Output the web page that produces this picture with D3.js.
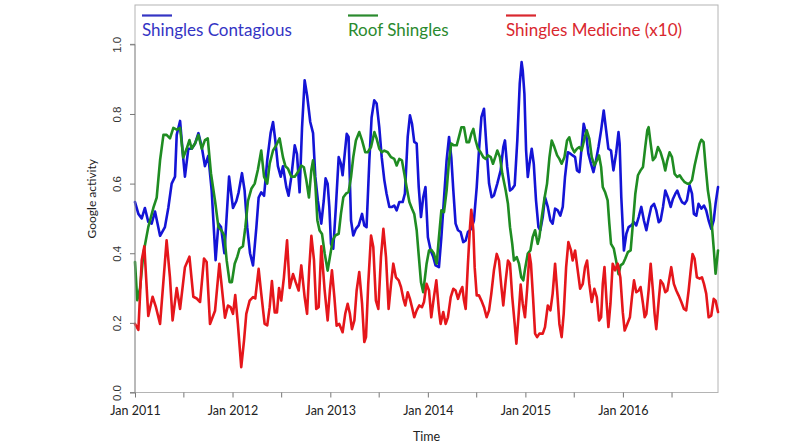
<!DOCTYPE html>
<html>
<head>
<meta charset="utf-8">
<script src="https://cdn.jsdelivr.net/npm/d3@7"></script>
<style>
  html, body { margin: 0; padding: 0; background: #fff; }
  svg { display: block; }
</style>
</head>
<body>
<svg id="chart" width="800" height="444"></svg>
<script>
// ---- data: [weeks since 1 Jan 2011, value] ----
const seriesNames = ["Shingles Contagious", "Roof Shingles", "Shingles Medicine (x10)"];
const yTicks = [0, 0.2, 0.4, 0.6, 0.8, 1.0];
const xTickYears = ["Jan 2011", "Jan 2012", "Jan 2013", "Jan 2014", "Jan 2015", "Jan 2016"];

const contagious = [
[0,0.547],[1.8,0.513],[3.6,0.50],[5.3,0.53],[7.1,0.49],[8.9,0.485],[10.7,0.52],[13.4,0.45],[16,0.475],[17.8,0.53],
[19.6,0.60],[21.4,0.62],[22.3,0.74],[24.1,0.78],[25.5,0.69],[26.7,0.62],[28.5,0.70],[30.3,0.70],[32.1,0.715],[33.9,0.745],
[35.7,0.705],[37.4,0.65],[39.2,0.68],[41,0.58],[43.1,0.38],[44.6,0.485],[46,0.475],[47.8,0.40],[50.3,0.62],[52.4,0.53],
[54.2,0.55],[55.4,0.575],[57.2,0.63],[58.6,0.58],[60,0.475],[61.5,0.40],[63.1,0.365],[64.9,0.475],[66.1,0.56],[67.5,0.575],
[69,0.565],[70.7,0.667],[72.5,0.745],[73.8,0.777],[75,0.725],[76.4,0.65],[77.9,0.62],[79.1,0.65],[80.9,0.59],[82.1,0.565],
[83.6,0.62],[85.4,0.71],[86.6,0.685],[88,0.575],[89.3,0.76],[90.7,0.897],[92.1,0.85],[93.7,0.777],[95.2,0.745],[96.4,0.62],
[97.8,0.55],[99.6,0.485],[100.9,0.55],[101.9,0.615],[103,0.60],[103.9,0.533],[104.8,0.427],[106,0.413],[107.4,0.533],[108.9,0.676],
[110.1,0.657],[111,0.624],[112.3,0.695],[113.2,0.743],[114.2,0.734],[115.5,0.494],[116.7,0.451],[118.1,0.47],[119.6,0.48],[121.4,0.513],
[122.6,0.48],[123.8,0.475],[125.3,0.667],[126.5,0.79],[127.9,0.839],[129.2,0.83],[130.6,0.762],[131.9,0.676],[133.3,0.61],[134.5,0.571],
[136,0.533],[137.4,0.533],[138.6,0.537],[139.9,0.523],[141.3,0.547],[143.1,0.547],[144.3,0.571],[145.8,0.734],[147,0.796],[148.1,0.772],
[149.3,0.72],[150.6,0.715],[151.7,0.59],[152.9,0.504],[154.1,0.561],[155.3,0.59],[156.6,0.446],[158.1,0.408],[159.5,0.389],[160.7,0.365],
[162.5,0.36],[163.8,0.446],[165.2,0.557],[166.6,0.667],[167.9,0.734],[169.1,0.676],[170.2,0.58],[171.4,0.485],[172.7,0.466],[174.1,0.461],
[175.5,0.432],[176.8,0.437],[178,0.461],[179.8,0.47],[181.2,0.494],[182.7,0.59],[183.9,0.695],[185.2,0.791],[186.6,0.815],[187.8,0.715],
[189.3,0.60],[190.7,0.561],[191.9,0.566],[193.7,0.60],[195.5,0.638],[196.9,0.705],[197.8,0.724],[199,0.648],[200.5,0.58],[201.7,0.585],
[203,0.595],[204.4,0.724],[205.7,0.887],[206.7,0.949],[207.3,0.925],[208.2,0.858],[209.1,0.695],[210,0.619],[210.9,0.657],[212.1,0.70],
[213.2,0.657],[214.4,0.552],[215.7,0.475],[216.7,0.466],[218,0.504],[219.2,0.561],[220.7,0.533],[222.1,0.494],[223.3,0.485],[224.6,0.528],
[226,0.523],[227.4,0.508],[228.7,0.533],[229.9,0.619],[231.4,0.69],[232.8,0.686],[234,0.681],[235.3,0.676],[236.3,0.638],[237.6,0.633],
[238.8,0.705],[239.9,0.772],[241.2,0.743],[242.4,0.686],[243.8,0.657],[245.1,0.633],[246.5,0.667],[247.8,0.705],[249.2,0.753],[250.6,0.81],
[251.9,0.753],[253.1,0.70],[254.5,0.695],[255.8,0.638],[257.2,0.686],[258.5,0.748],[259.1,0.715],[260,0.561],[261.4,0.408],[262.7,0.456],
[263.9,0.475],[265.3,0.48],[266.8,0.489],[268,0.48],[269.3,0.504],[270.7,0.533],[272.1,0.494],[273.4,0.466],[274.6,0.499],[276,0.533],
[277.5,0.542],[278.7,0.523],[280,0.489],[281,0.494],[282.3,0.533],[283.5,0.58],[284.9,0.561],[286.4,0.533],[287.6,0.556],[288.9,0.571],
[289.9,0.58],[291.2,0.561],[292.4,0.547],[293.9,0.542],[295.1,0.552],[296.5,0.595],[297.8,0.571],[298.8,0.513],[300.1,0.508],[301.3,0.542],
[302.8,0.528],[304.2,0.537],[305.4,0.523],[306.7,0.494],[308.1,0.47],[309.4,0.494],[310.4,0.542],[311.7,0.59]
];

const roof = [
[0,0.375],[1.2,0.265],[2.7,0.30],[4.5,0.40],[7.1,0.475],[9.8,0.53],[11.6,0.56],[13.4,0.667],[15.2,0.74],[16.9,0.74],
[18.7,0.73],[20.5,0.76],[22.3,0.755],[24.1,0.76],[25.8,0.675],[27.6,0.70],[29.1,0.725],[30.3,0.70],[32.1,0.715],[33.9,0.74],
[35.7,0.70],[37.4,0.725],[38.9,0.73],[40.6,0.63],[42.8,0.55],[44.6,0.475],[46.3,0.465],[47.8,0.45],[49,0.38],[50.6,0.317],
[51.8,0.317],[53.3,0.37],[54.7,0.39],[55.9,0.413],[57.7,0.42],[59,0.475],[60.4,0.55],[62.2,0.585],[64,0.60],[65.7,0.64],
[67.5,0.695],[69,0.62],[70.7,0.60],[72,0.657],[73.8,0.695],[75.5,0.71],[77.3,0.73],[79.1,0.676],[80.4,0.65],[81.8,0.643],
[83.6,0.62],[85.4,0.62],[87.1,0.633],[88.9,0.652],[90.3,0.647],[91.6,0.61],[93,0.56],[94.3,0.64],[95.2,0.667],[96.4,0.60],
[97.5,0.495],[98.7,0.465],[100,0.455],[101.4,0.40],[103,0.35],[104.2,0.389],[105.7,0.437],[107.1,0.451],[108.9,0.456],[110.1,0.513],
[111.4,0.561],[112.8,0.571],[114.2,0.576],[115.5,0.619],[116.7,0.676],[118.1,0.724],[119.9,0.748],[121.4,0.724],[123.1,0.69],[124.4,0.69],
[126.2,0.705],[128,0.748],[129.2,0.729],[130.6,0.70],[132,0.69],[133.3,0.695],[135.1,0.69],[136.9,0.676],[138.6,0.671],[139.9,0.652],
[141.3,0.671],[142.7,0.667],[144,0.628],[145.2,0.59],[146.7,0.547],[148.1,0.528],[149.3,0.513],[150.6,0.466],[151.7,0.394],[152.9,0.317],
[154.1,0.288],[155.9,0.37],[157.2,0.408],[158.4,0.41],[159.8,0.399],[161.3,0.37],[162.5,0.446],[163.8,0.523],[165.2,0.518],[166.6,0.58],
[167.9,0.667],[169.1,0.715],[170.5,0.71],[172,0.71],[173.2,0.734],[174.5,0.762],[175.9,0.762],[177.3,0.719],[178.6,0.719],[179.8,0.743],
[180.9,0.757],[182.1,0.724],[183.4,0.70],[184.8,0.69],[186.2,0.676],[187.5,0.671],[188.7,0.681],[190.2,0.676],[191.4,0.657],[192.6,0.676],
[193.7,0.695],[195.1,0.676],[196.4,0.628],[198.2,0.58],[199.4,0.542],[200.5,0.475],[201.7,0.427],[202.6,0.379],[204.1,0.389],[205.3,0.37],
[206.5,0.331],[207.6,0.322],[208.7,0.36],[210,0.399],[211.4,0.408],[212.6,0.446],[213.9,0.466],[215.3,0.427],[216.2,0.446],[217.5,0.504],
[218.9,0.557],[220.3,0.60],[221.6,0.676],[222.8,0.724],[224.2,0.705],[225.7,0.681],[226.9,0.671],[228.1,0.657],[229.6,0.676],[231,0.724],
[232.2,0.733],[233.5,0.705],[234.9,0.69],[236.3,0.70],[237.6,0.705],[238.8,0.695],[240.3,0.729],[241.5,0.753],[242.9,0.729],[244.2,0.676],
[245.6,0.652],[247,0.667],[248.1,0.681],[249.2,0.648],[250.1,0.59],[251.3,0.576],[252.7,0.552],[253.6,0.485],[254.5,0.427],[256,0.413],
[257.2,0.379],[258.5,0.34],[259.6,0.365],[260.9,0.37],[262.1,0.384],[263.5,0.403],[265,0.408],[266.2,0.485],[267.5,0.571],[268.9,0.624],
[270.3,0.638],[271.6,0.648],[272.8,0.705],[273.9,0.753],[274.6,0.762],[275.7,0.715],[276.9,0.667],[278.2,0.676],[279.6,0.705],[281,0.69],
[282.3,0.667],[283.5,0.638],[284.6,0.667],[285.8,0.69],[287.1,0.676],[288.5,0.628],[289.9,0.619],[291.2,0.624],[292.4,0.614],[293.9,0.604],
[295.3,0.60],[296.5,0.60],[297.8,0.61],[299.2,0.652],[300.6,0.686],[301.9,0.715],[302.8,0.726],[304,0.719],[305.1,0.648],[306.3,0.58],
[307.4,0.542],[308.5,0.475],[309.5,0.408],[310.4,0.341],[311.7,0.408]
];

const medicine = [
[0,0.197],[1.8,0.18],[3.6,0.38],[5,0.42],[7.1,0.22],[9.4,0.275],[11.2,0.245],[13.4,0.197],[15.2,0.32],[16.9,0.437],
[18.7,0.33],[20.1,0.207],[22.3,0.30],[24.1,0.24],[26.7,0.36],[29.1,0.39],[31.2,0.275],[33,0.27],[34.8,0.26],[36.9,0.385],
[38.3,0.375],[40.1,0.197],[42.8,0.235],[45.1,0.37],[48.1,0.215],[49.7,0.25],[51.1,0.245],[52.4,0.226],[53.6,0.28],[55,0.197],
[56.8,0.073],[58.3,0.15],[59.5,0.226],[61.3,0.264],[63.1,0.274],[64.3,0.27],[66.1,0.355],[67.5,0.284],[69.3,0.197],[70.7,0.193],
[72,0.245],[73.2,0.32],[74.7,0.23],[75.9,0.23],[77,0.30],[78.2,0.264],[79.6,0.33],[81.3,0.437],[82.7,0.30],[84.5,0.34],
[85.9,0.317],[87.5,0.293],[88.9,0.365],[90.7,0.274],[92,0.226],[93.2,0.36],[94.3,0.45],[95.7,0.38],[96.9,0.24],[98.2,0.245],
[99.6,0.42],[101.4,0.293],[103,0.207],[104.2,0.293],[105.3,0.351],[106.6,0.274],[107.8,0.192],[109.2,0.197],[111,0.173],[112.4,0.226],
[113.7,0.255],[114.9,0.226],[116,0.182],[117.3,0.207],[118.5,0.293],[119.9,0.346],[121.4,0.255],[122.6,0.145],[123.5,0.159],[124.7,0.312],
[126.2,0.451],[127.4,0.418],[128.8,0.264],[130.1,0.24],[131.5,0.389],[132.8,0.47],[134.2,0.389],[135.6,0.24],[136.9,0.312],[138.1,0.37],
[139.5,0.331],[141,0.322],[142.2,0.303],[143.5,0.269],[144.5,0.25],[145.8,0.288],[147,0.269],[148.1,0.245],[149.3,0.216],[150.6,0.236],
[152,0.25],[153.4,0.245],[154.5,0.26],[155.9,0.312],[157.2,0.293],[158.4,0.216],[159.8,0.274],[161.1,0.322],[162.5,0.236],[163.4,0.197],
[164.8,0.231],[166.1,0.197],[167.3,0.216],[168.8,0.274],[170.2,0.298],[171.4,0.293],[172.7,0.269],[174.1,0.293],[175,0.303],[175.9,0.264],
[176.8,0.24],[178,0.37],[179.1,0.475],[179.8,0.525],[180.9,0.466],[181.6,0.36],[182.7,0.279],[183.9,0.279],[185.2,0.264],[186.6,0.245],
[188,0.216],[189.3,0.236],[190.5,0.284],[191.9,0.351],[193.4,0.398],[194.6,0.379],[195.9,0.303],[196.9,0.25],[198.2,0.322],[199.4,0.379],
[200.5,0.37],[201.7,0.274],[203,0.197],[203.9,0.14],[205,0.216],[206.2,0.31],[207.3,0.255],[208.5,0.216],[209.6,0.293],[210.9,0.398],
[211.7,0.37],[212.8,0.274],[213.9,0.169],[215,0.159],[216.2,0.169],[218,0.169],[219.2,0.188],[220.7,0.25],[222.1,0.236],[223.3,0.284],
[224.6,0.37],[225.7,0.293],[226.9,0.197],[228.1,0.159],[229.2,0.226],[230.5,0.36],[231.7,0.432],[233.1,0.408],[234,0.379],[235.3,0.408],
[236.7,0.351],[238,0.298],[239.4,0.312],[240.6,0.36],[241.7,0.379],[242.9,0.312],[244.2,0.26],[245.6,0.298],[246.9,0.274],[248.1,0.207],
[249.2,0.216],[250.1,0.312],[251,0.36],[252.2,0.255],[253.1,0.188],[254.2,0.255],[255.4,0.37],[256.7,0.351],[258.1,0.37],[259.5,0.33],
[260.8,0.23],[261.8,0.178],[263.2,0.197],[264.6,0.216],[265.7,0.274],[266.8,0.322],[268,0.288],[269.3,0.293],[270.3,0.303],[271.6,0.255],
[272.5,0.216],[273.4,0.226],[274.6,0.293],[275.7,0.37],[276.9,0.293],[277.8,0.226],[278.7,0.182],[280,0.264],[281,0.322],[282.3,0.312],
[283.5,0.288],[284.6,0.293],[285.8,0.331],[286.7,0.36],[288.1,0.312],[289.4,0.293],[290.6,0.279],[292.1,0.26],[293.5,0.24],[294.7,0.236],
[296,0.293],[297.1,0.351],[298.1,0.398],[299.2,0.384],[300.4,0.331],[301.9,0.327],[303.1,0.331],[304.2,0.312],[305.4,0.284],[306.7,0.216],
[308.1,0.221],[309.4,0.269],[310.4,0.264],[311.7,0.231]
];

const seriesColors = ["#1414d6", "#1f8c22", "#e5161b"];
const legendTextColors = ["#3434c4", "#2a8a2e", "#d9282f"];

// ---- layout ----
const svg = d3.select("#chart");
const plotLeft = 135, plotRight = 718, plotTop = 5, plotBottom = 392.5;
const startMs = Date.UTC(2011, 0, 1);
const weekMs = 7 * 24 * 3600 * 1000;
const toDate = w => new Date(startMs + w * weekMs);

const allSeries = [contagious, roof, medicine];
const lastWeek = d3.max(allSeries, s => d3.max(s, d => d[0]));

const x = d3.scaleUtc().domain([toDate(0), toDate(lastWeek)]).range([plotLeft, plotRight]);
const y = d3.scaleLinear().domain([0, 1.113]).range([plotBottom, plotTop]);

// box
svg.append("rect")
  .attr("x", plotLeft).attr("y", plotTop)
  .attr("width", plotRight - plotLeft).attr("height", plotBottom - plotTop)
  .attr("fill", "none").attr("stroke", "#b4b4b4").attr("stroke-width", 1);

// lines
const line = d3.line().x(d => x(toDate(d[0]))).y(d => y(d[1]));
const plot = svg.append("g");
allSeries.forEach((s, i) => {
  plot.append("path")
    .datum(s)
    .attr("d", line)
    .attr("fill", "none")
    .attr("stroke", seriesColors[i])
    .attr("stroke-width", 2.6)
    .attr("stroke-linejoin", "round")
    .attr("stroke-linecap", "round");
});

// y axis
const yAxis = d3.axisLeft(y).tickValues(yTicks).tickFormat(d3.format(".1f")).tickSize(5).tickPadding(4);
const gy = svg.append("g").attr("transform", `translate(${plotLeft},0)`).call(yAxis);
gy.select(".domain").attr("stroke", "#9a9a9a").attr("d", `M-5,${y(0)}H0V${y(1)}H-5`);
gy.selectAll(".tick line").attr("stroke", "#777");
gy.selectAll(".tick text")
  .attr("font-family", "'Liberation Sans', Arial, sans-serif")
  .attr("font-size", 11.5)
  .attr("fill", "#333")
  .attr("text-anchor", "middle")
  .attr("x", 0).attr("dy", 0)
  .attr("transform", "translate(-14,0) rotate(-90)");

// x axis
const xTickDates = d3.utcMonth.every(6).range(toDate(0), toDate(lastWeek));
const xAxis = d3.axisBottom(x).tickValues(xTickDates).tickSize(5).tickPadding(9)
  .tickFormat(d => d.getUTCMonth() === 0 ? xTickYears[d.getUTCFullYear() - 2011] : "");
const gx = svg.append("g").attr("transform", `translate(0,${plotBottom})`).call(xAxis);
gx.select(".domain").remove();
gx.selectAll(".tick line").attr("stroke", "#777");
gx.selectAll(".tick text")
  .attr("font-family", "Lato, 'Open Sans', sans-serif")
  .attr("font-size", 12.5)
  .attr("fill", "#222");

// axis titles
svg.append("text")
  .attr("x", (plotLeft + plotRight) / 2).attr("y", 441)
  .attr("text-anchor", "middle")
  .attr("font-family", "Lato, 'Open Sans', sans-serif")
  .attr("font-size", 12.5).attr("fill", "#222")
  .text("Time");
svg.append("text")
  .attr("transform", `translate(96,${(plotTop + plotBottom) / 2}) rotate(-90)`)
  .attr("text-anchor", "middle")
  .attr("font-family", "Lato, 'Open Sans', sans-serif")
  .attr("font-size", 12).attr("fill", "#222")
  .text("Google activity");

// legend
const legendX = [142, 348, 506];
seriesNames.forEach((name, i) => {
  const g = svg.append("g").attr("transform", `translate(${legendX[i]},0)`);
  g.append("line").attr("x1", 0).attr("x2", 30).attr("y1", 15.5).attr("y2", 15.5)
    .attr("stroke", legendTextColors[i]).attr("stroke-width", 2.2);
  g.append("text").attr("x", 0).attr("y", 36)
    .attr("font-family", "Lato, 'Open Sans', sans-serif")
    .attr("font-size", 17)
    .attr("fill", legendTextColors[i])
    .text(name);
});
</script>
</body>
</html>
